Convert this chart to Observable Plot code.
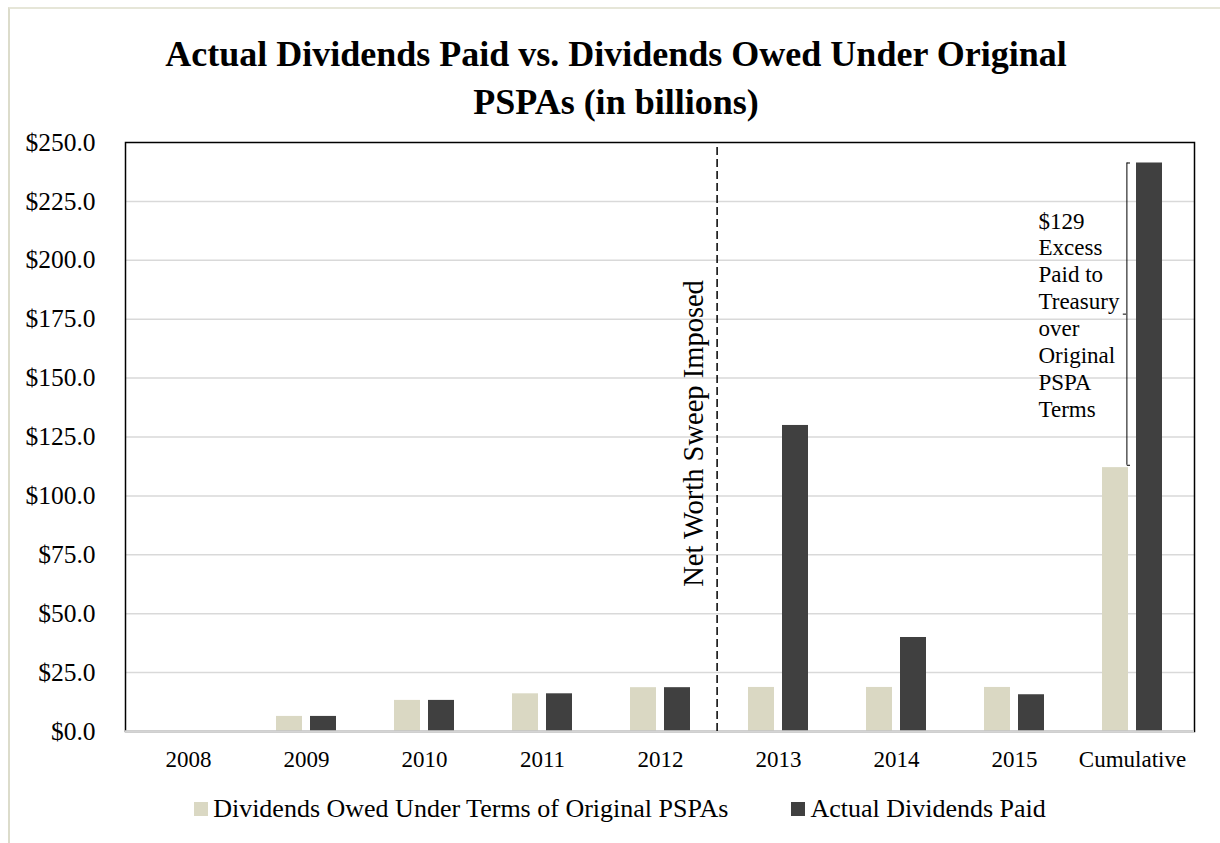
<!DOCTYPE html>
<html>
<head>
<meta charset="utf-8">
<script src="https://cdn.jsdelivr.net/npm/d3@7"></script>
<script src="https://cdn.jsdelivr.net/npm/@observablehq/plot@0.6"></script>
<style>
  html, body { margin: 0; padding: 0; background: #fff; }
  body { width: 1220px; height: 843px; position: relative; overflow: hidden; font-family: "Liberation Serif", "Times New Roman", serif; }
  #border { position: absolute; left: 8px; top: 7px; right: 0; bottom: 0; border-left: 2px solid #dcdccb; border-top: 2px solid #e6e6d8; }
  #title { position: absolute; left: 6px; top: 30px; width: 1220px; text-align: center; font-weight: bold; font-size: 36px; line-height: 48px; color: #000; }
  #chart { position: absolute; left: 0; top: 120px; }
  #legend { position: absolute; left: 10px; top: 795px; width: 1220px; display: flex; justify-content: center; align-items: center; font-size: 26px; line-height: 28px; color: #000; }
  .item { display: flex; align-items: center; }
  .sw { width: 14px; height: 14px; margin-right: 5px; }
</style>
</head>
<body>
<div id="border"></div>
<div id="title">Actual Dividends Paid vs. Dividends Owed Under Original<br>PSPAs (in billions)</div>
<div id="chart"></div>
<div id="legend"></div>
<script>
const categories = ["2008", "2009", "2010", "2011", "2012", "2013", "2014", "2015", "Cumulative"];
const owed = [0, 6.4, 13.2, 16.0, 18.6, 18.7, 18.7, 18.7, 112];
const paid = [0, 6.4, 13.2, 16.0, 18.6, 129.9, 39.9, 15.6, 241.3];
const seriesNames = ["Dividends Owed Under Terms of Original PSPAs", "Actual Dividends Paid"];
const seriesColors = ["#dad8c3", "#404040"];
const yTicks = [0, 25, 50, 75, 100, 125, 150, 175, 200, 225, 250];
const sweepCategory = "2013";
const sweepLabel = "Net Worth Sweep Imposed";
const sweepLabelY = 126.5;
const excessLabel = "$129\nExcess\nPaid to\nTreasury\nover\nOriginal\nPSPA\nTerms";

const width = 1220, height = 670;
const marginLeft = 125, marginRight = 26, marginTop = 22, marginBottom = 59;
const step = (width - marginLeft - marginRight) / categories.length;

const last = categories.length - 1;
const bracket = {x: categories[last], y1: owed[last] + 1, y2: paid[last], ym: (owed[last] + 1 + paid[last]) / 2};

const chart = Plot.plot({
  width, height, marginLeft, marginRight, marginTop, marginBottom,
  style: {fontFamily: "'Liberation Serif', 'Times New Roman', serif", color: "#000", background: "transparent"},
  x: {domain: categories, padding: 0},
  y: {domain: [0, 250]},
  marks: [
    Plot.gridY(yTicks.filter(d => d > 0 && d < 250), {stroke: "#d9d9d9", strokeOpacity: 1, strokeWidth: 1.5}),
    Plot.barY(categories, {x: d => d, y: (d, i) => owed[i], fill: seriesColors[0], insetLeft: 29, insetRight: 63}),
    Plot.barY(categories, {x: d => d, y: (d, i) => paid[i], fill: seriesColors[1], insetLeft: 63, insetRight: 29}),
    Plot.frame({stroke: "#000", strokeWidth: 1.5}),
    Plot.ruleY([0], {stroke: "#d4d4d4", strokeWidth: 2.5}),
    Plot.ruleX([sweepCategory], {x: d => d, y1: 0, y2: 250, dx: -step / 2 - 2, stroke: "#000", strokeWidth: 1.5, strokeDasharray: "8,4"}),
    Plot.text([sweepLabel], {x: () => sweepCategory, y: () => sweepLabelY, text: d => d, rotate: -90, dx: -step / 2 - 25, fontSize: 28.5, fill: "#000", textAnchor: "middle", lineAnchor: "middle"}),
    Plot.ruleX([bracket], {x: "x", y1: "y1", y2: "y2", dx: -5.6, stroke: "#000", strokeWidth: 1}),
    Plot.tickY([bracket], {x: "x", y: "y1", insetLeft: 53.8, insetRight: 61, stroke: "#000", strokeWidth: 1}),
    Plot.tickY([bracket], {x: "x", y: "y2", insetLeft: 53.8, insetRight: 61, stroke: "#000", strokeWidth: 1}),
    Plot.tickY([bracket], {x: "x", y: "ym", insetLeft: 49.8, insetRight: 65, stroke: "#000", strokeWidth: 1}),
    Plot.text([bracket], {x: "x", y: "ym", text: () => excessLabel, dx: -94, textAnchor: "start", lineAnchor: "middle", fontSize: 23, lineHeight: 1.17, fill: "#000"}),
    Plot.axisY(yTicks, {tickSize: 0, tickPadding: 30, fontSize: 25.5, tickFormat: d => "$" + d.toFixed(1), fill: "#000"}),
    Plot.axisX({tickSize: 0, tickPadding: 19, fontSize: 23, fill: "#000", label: null})
  ]
});
document.getElementById("chart").appendChild(chart);

const legend = document.getElementById("legend");
seriesNames.forEach((name, i) => {
  const item = document.createElement("div");
  item.className = "item";
  if (i > 0) item.style.marginLeft = "63px";
  const sw = document.createElement("div");
  sw.className = "sw";
  sw.style.background = seriesColors[i];
  const t = document.createElement("span");
  t.textContent = name;
  item.appendChild(sw);
  item.appendChild(t);
  legend.appendChild(item);
});
</script>
</body>
</html>
